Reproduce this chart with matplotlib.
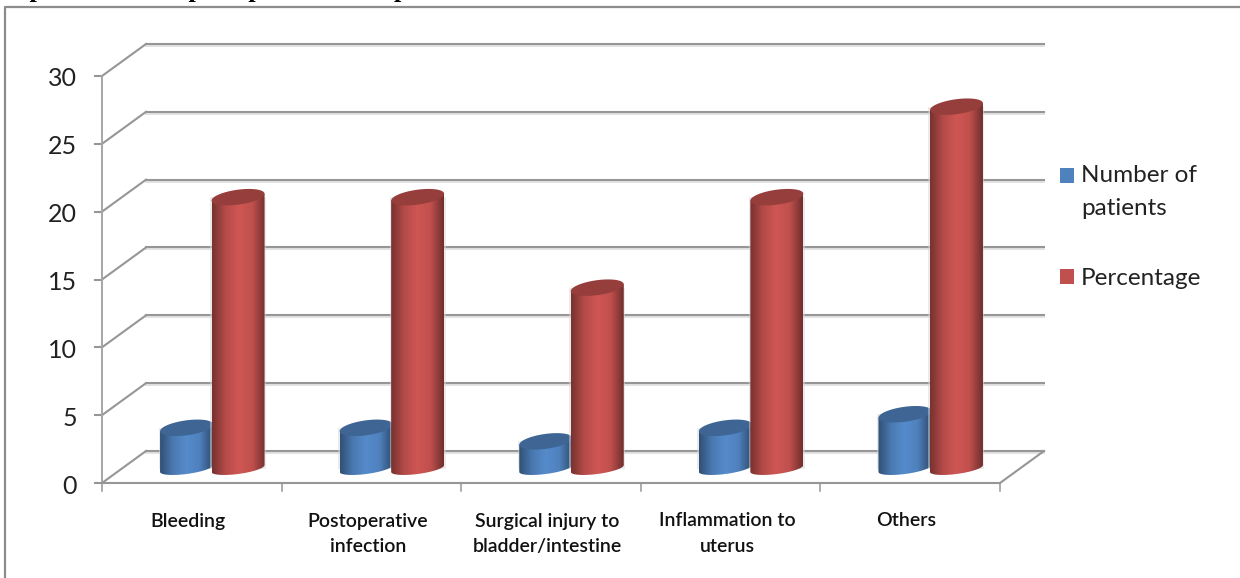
import numpy as np
import matplotlib
matplotlib.use("Agg")
import matplotlib.pyplot as plt
from matplotlib.colors import LinearSegmentedColormap
from matplotlib.patches import Polygon

W, H = 1240, 578

categories = ["Bleeding", "Postoperative\ninfection", "Surgical injury to\nbladder/intestine",
              "Inflammation to\nuterus", "Others"]
patients = [3, 3, 2, 3, 4]
percentage = [20, 20, 13.33, 20, 26.67]
yticks = [0, 5, 10, 15, 20, 25, 30]
series_names = ["Number of\npatients", "Percentage"]
caption = "Graph 1:  Rate of postoperative complications"

BLUE = "#4f81bd"
RED = "#c0504d"
GRID = "#969696"

plt.rcParams["font.family"] = ["Lato", "DejaVu Sans"]

fig = plt.figure(figsize=(W / 100, H / 100), dpi=100)
fig.patch.set_facecolor("white")

# front plane of the box: x in categories, y in values
ax = fig.add_axes([102 / W, (H - 483) / H, 898 / W, 407 / H])
ax.set_xlim(0, 5)
ax.set_ylim(0, 30)
ax.patch.set_alpha(0)
for s in ax.spines.values():
    s.set_visible(False)
ax.set_xticks([])
ax.set_yticks([])

# pixel sizes to data units
px = 5 / 898
py = 30 / 407
dx, dy = 44 * px, 32 * py


def line(xs, ys, lw=1.5, color=GRID, z=1):
    ax.plot(xs, ys, color=color, lw=lw, clip_on=False, zorder=z, solid_capstyle="projecting")


# back wall gridlines, their soft shadow and the slanted side wall
for v in yticks:
    line([dx, 5 + dx], [v + dy - 2 * py, v + dy - 2 * py], lw=1.4, color="#e2e2e2", z=0.5)
    line([dx, 5 + dx], [v + dy, v + dy])
    line([0, dx], [v, v + dy])
    line([-7 * px, 0], [v, v])
    ax.text(-25 * px, v - 3 * py, str(v), ha="right", va="center", fontsize=18, color="#222222")
line([0, 0], [0, 30], lw=1.4, color="#a6a6a6")
line([5, 5 + dx], [0, dy])
line([0, 5], [0, 0])
for i in range(6):
    line([i, i], [0, -8 * py], lw=1.1)
for i, name in enumerate(categories):
    ax.text(i + 0.48, -29.5 * py, name, ha="center", va="top", fontsize=14, color="#111111",
            linespacing=1.62, fontweight="semibold")


def ramp(c):
    base = np.array(matplotlib.colors.to_rgb(c))
    return LinearSegmentedColormap.from_list(
        c, [base * 0.62, base * 0.94, np.clip(base * 1.08, 0, 1), base * 1.0, base * 0.58]
    )


def cylinder(left, value, color, z):
    # base sits 14 px behind the front edge, the ends are slightly tilted ellipses
    w = 26.5 * px
    cx = left + w
    y0 = 14.5 * py
    top = value + y0
    tilt = 3.4 * py
    t = np.linspace(0, np.pi, 40)
    ex = w * np.cos(t)
    side_x = np.concatenate([cx + ex[::-1], cx + ex])
    side_y = np.concatenate([top - tilt * np.cos(t), y0 - 5.5 * py * np.sin(t) + tilt * np.cos(t)])
    body = Polygon(np.column_stack([side_x, side_y]), closed=True, transform=ax.transData, fc="none", ec="none")
    ax.add_patch(body)
    body.set_clip_on(False)

    # soft edge either side of the cylinder
    ax.fill_between([left - 1.5 * px, left + 2 * w + 1.5 * px], [y0, y0], [top, top], color="#d8d8d8",
                    alpha=0.5, lw=0, zorder=z - 0.2, clip_on=False)
    shade = np.linspace(0, 1, 128).reshape(1, -1)
    im = ax.imshow(shade, extent=[left, left + 2 * w, y0 - 8 * py, top + 8 * py], aspect="auto",
                   cmap=ramp(color), zorder=z, clip_on=True)
    im.set_clip_path(body)

    base = np.array(matplotlib.colors.to_rgb(color)) * 0.78
    tt = np.linspace(0, 2 * np.pi, 80)
    cap = np.column_stack([cx + w * np.cos(tt),
                           top + 7.5 * py * np.sin(tt) + tilt * np.cos(tt)])
    ax.add_patch(Polygon(cap, closed=True, fc=base, ec="none", zorder=z + 0.1, clip_on=False))


group_shift = 0.11
bar_w = 53 * px
for i in range(len(categories)):
    c = i + 0.5 + group_shift
    cylinder(c - bar_w + 1.5 * px, patients[i], BLUE, 2 + i * 0.01)
    cylinder(c, percentage[i], RED, 3 + i * 0.01)
ax.set_xlim(0, 5)
ax.set_ylim(0, 30)

# legend keeps the chart's own layout, to the right of the box
for name, colr, ky, ty in [(series_names[0], BLUE, 175, 165), (series_names[1], RED, 276.5, 268)]:
    fig.patches.append(plt.Rectangle((1060 / W, 1 - (ky + 7.5) / H), 14 / W, 15 / H, transform=fig.transFigure,
                                     fc=colr, ec="none"))
    fig.text(1081 / W, 1 - ty / H, name, ha="left", va="top", fontsize=17.5, color="#222222", linespacing=1.72)

# frame of the chart area
fig.add_artist(plt.Line2D([5 / W, 5 / W, 1], [0, 1 - 7 / H, 1 - 7 / H], color="#8c8c8c", lw=1.6))

# caption line running off the top edge
fig.text(-16 / W, 1 + 3.5 / H, caption, ha="left", va="baseline", fontsize=19, family="Liberation Serif",
         fontweight="bold", color="black")

fig.savefig("out.png", dpi=100)
